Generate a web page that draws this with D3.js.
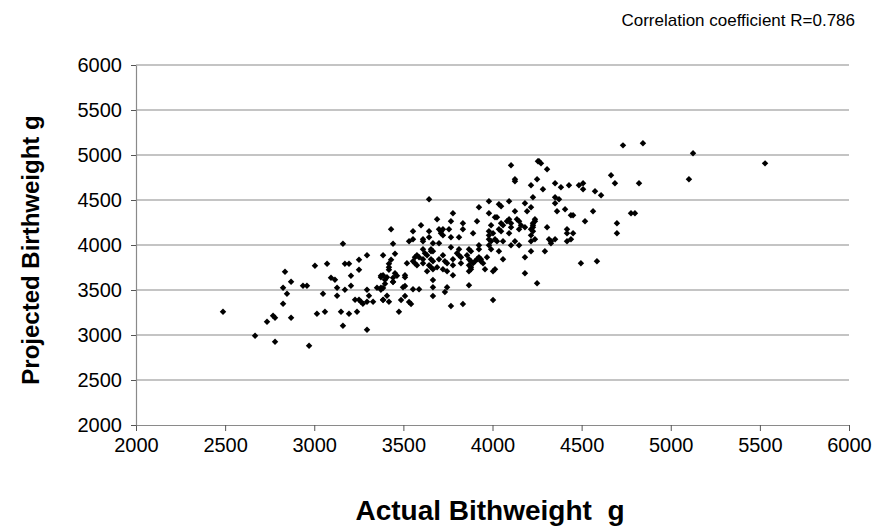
<!DOCTYPE html>
<html>
<head>
<meta charset="utf-8">
<script src="https://cdn.jsdelivr.net/npm/d3@7"></script>
<style>
  html, body { margin: 0; padding: 0; background: #fff; }
  svg { display: block; font-family: "Liberation Sans", Arial, sans-serif; }
</style>
</head>
<body>
<svg id="chart" width="875" height="532"></svg>
<script>
const chartNote = "Correlation coefficient R=0.786";
const xTitle = "Actual Bithweight  g";
const yTitle = "Projected Birthweight g";
const xTicks = [2000, 2500, 3000, 3500, 4000, 4500, 5000, 5500, 6000];
const yTicks = [2000, 2500, 3000, 3500, 4000, 4500, 5000, 5500, 6000];

// Actual birthweight (g)
const actual = [
3431,3161,3442,3296,3386,3453,3251,3431,3419,3004,3072,3172,3195,3419,3251,2836,3206,3374,3464,3094,
3116,2870,3397,3397,3442,3442,2937,2959,3206,2825,3128,3352,3374,3374,3172,3296,2847,3049,3128,3307,
3408,3229,3251,3262,3273,3296,3330,3386,3419,2825,2488,3015,3060,3150,3195,3240,3475,2769,2780,2870,
2735,3161,3296,2668,2780,2971,
4104,4126,4126,4255,4250,4216,3644,4227,3980,4036,4048,4182,3924,4216,3778,3980,4126,4194,3689,3913,
4014,4025,4081,4093,4104,4137,4149,4238,3599,3767,3834,4048,4059,3992,4182,4227,3554,3644,3700,3711,
3722,3756,3834,3891,3980,4003,4036,4048,4104,4093,4149,4227,3610,3610,3532,3554,3644,3711,3722,3767,
3812,3980,3980,3992,4014,4025,4059,4126,4216,4238,3666,3700,3924,3980,4104,4149,3610,3655,3655,3666,
3767,3812,3868,3879,3924,3992,4036,4216,3565,3576,3588,3621,3633,3722,3801,3812,3823,3857,3924,3935,
3969,4059,4182,3520,3554,3565,3576,3610,3610,3655,3666,3644,3655,3700,3733,3745,3778,3778,3823,3868,
3879,3868,3879,3891,3902,3913,3935,3947,3958,3419,3386,3374,3408,3453,3509,3509,3633,3666,3689,3722,
3745,3778,3868,3879,4003,4014,4182,4250,3498,3554,3588,3666,3745,3868,4093,
3442,3509,3386,3666,3666,3733,3509,3386,3487,3532,3543,3767,3834,4003,
4732,4844,5125,4261,4272,4306,4665,5102,4687,4822,4351,4384,4429,4485,4508,4508,4283,4575,4609,4351,
4351,4373,4362,4407,4564,4777,4799,4440,4452,4238,4227,4519,4698,4160,4227,4216,4306,4418,4418,4452,
4698,4216,4317,4328,4351,4328,4418,4440,4294,4496,4586,5529
];

// Projected birthweight (g)
const projected = [
4174,4014,4014,3885,3885,3903,3837,3837,3792,3770,3792,3792,3792,3725,3725,3703,3659,3659,3659,3636,
3614,3592,3614,3570,3636,3592,3548,3548,3548,3526,3526,3526,3526,3503,3503,3503,3459,3459,3437,3437,
3437,3392,3392,3370,3348,3370,3370,3392,3370,3348,3259,3237,3259,3259,3237,3259,3259,3214,3192,3192,
3148,3103,3059,2992,2925,2881,
4885,4730,4708,4930,4730,4663,4508,4530,4485,4452,4430,4463,4419,4419,4352,4352,4374,4374,4285,4263,
4308,4308,4263,4285,4241,4285,4263,4285,4219,4263,4241,4241,4219,4219,4196,4219,4152,4152,4174,4152,
4174,4174,4174,4130,4152,4130,4174,4152,4196,4130,4174,4152,4063,4041,4041,4063,4085,4130,4107,4085,
4085,4107,4063,4041,4063,4041,4041,4041,4041,4063,4019,4019,3996,3996,3996,3996,3952,3952,3930,3930,
3974,3952,3952,3930,3952,3952,3930,3930,3863,3885,3863,3908,3885,3885,3908,3885,3863,3885,3863,3841,
3863,3841,3863,3796,3819,3796,3774,3841,3796,3841,3819,3774,3752,3841,3819,3796,3841,3774,3796,3841,
3819,3774,3752,3796,3819,3841,3819,3796,3730,3752,3663,3641,3641,3685,3663,3641,3708,3730,3752,3730,
3708,3663,3708,3730,3708,3730,3685,3574,3530,3508,3508,3530,3530,3552,4485,
3589,3544,3522,3611,3433,3478,3433,3389,3389,3367,3344,3322,3344,3389,
5107,5130,5019,4930,4907,4841,4774,4730,4685,4685,4685,4641,4663,4663,4685,4619,4619,4596,4552,4530,
4463,4508,4374,4396,4374,4352,4352,4330,4330,4263,4241,4263,4241,4219,4196,4174,4196,4174,4130,4130,
4130,4107,4063,4041,4063,4019,4041,4063,3930,3796,3819,4907
];

const points = actual.map((a, i) => ({ a, p: projected[i] }));

const svg = d3.select("#chart");
const margin = { left: 136, right: 26, top: 65, bottom: 107 };
const W = 875, H = 532;

const x = d3.scaleLinear().domain([2000, 6000]).range([margin.left, W - margin.right]);
const y = d3.scaleLinear().domain([2000, 6000]).range([H - margin.bottom, margin.top]);

// gridlines
svg.append("g")
  .selectAll("line")
  .data(yTicks.filter(t => t !== 2000))
  .join("line")
  .attr("x1", x(2000)).attr("x2", x(6000))
  .attr("y1", d => y(d)).attr("y2", d => y(d))
  .attr("stroke", "#8a8a8a").attr("stroke-width", 1.2);

// x axis
const xAxis = d3.axisBottom(x).tickValues(xTicks).tickFormat(d3.format("d")).tickSizeInner(6).tickSizeOuter(0).tickPadding(7);
const gx = svg.append("g").attr("transform", `translate(0,${y(2000)})`).call(xAxis);
gx.select(".domain").attr("stroke", "#8a8a8a").attr("stroke-width", 1.2);
gx.selectAll(".tick line").attr("stroke", "#555");
gx.selectAll("text").attr("font-size", 20).attr("fill", "#000").attr("font-family", "Liberation Sans, Arial, sans-serif");

// y axis
const yAxis = d3.axisLeft(y).tickValues(yTicks).tickFormat(d3.format("d")).tickSizeInner(5).tickSizeOuter(0).tickPadding(9);
const gy = svg.append("g").attr("transform", `translate(${x(2000)},0)`).call(yAxis);
gy.select(".domain").attr("stroke", "#8a8a8a").attr("stroke-width", 1.2);
gy.selectAll(".tick line").attr("stroke", "#555");
gy.selectAll("text").attr("font-size", 20).attr("fill", "#000").attr("font-family", "Liberation Sans, Arial, sans-serif");

// points (diamond = square rotated 45°)
const marker = d3.symbol().type(d3.symbolSquare).size(21);
svg.append("g")
  .selectAll("path")
  .data(points)
  .join("path")
  .attr("d", marker)
  .attr("transform", d => `translate(${x(d.a)},${y(d.p)}) rotate(45)`)
  .attr("fill", "#000");

// titles
svg.append("text")
  .attr("x", 855).attr("y", 26)
  .attr("text-anchor", "end")
  .attr("font-size", 17)
  .text(chartNote);

svg.append("text")
  .attr("x", 490).attr("y", 520)
  .attr("text-anchor", "middle")
  .attr("font-size", 28).attr("font-weight", "bold")
  .attr("xml:space", "preserve")
  .style("white-space", "pre")
  .text(xTitle);

svg.append("text")
  .attr("transform", `translate(39,${250}) rotate(-90)`)
  .attr("text-anchor", "middle")
  .attr("font-size", 24).attr("font-weight", "bold")
  .text(yTitle);
</script>
</body>
</html>
